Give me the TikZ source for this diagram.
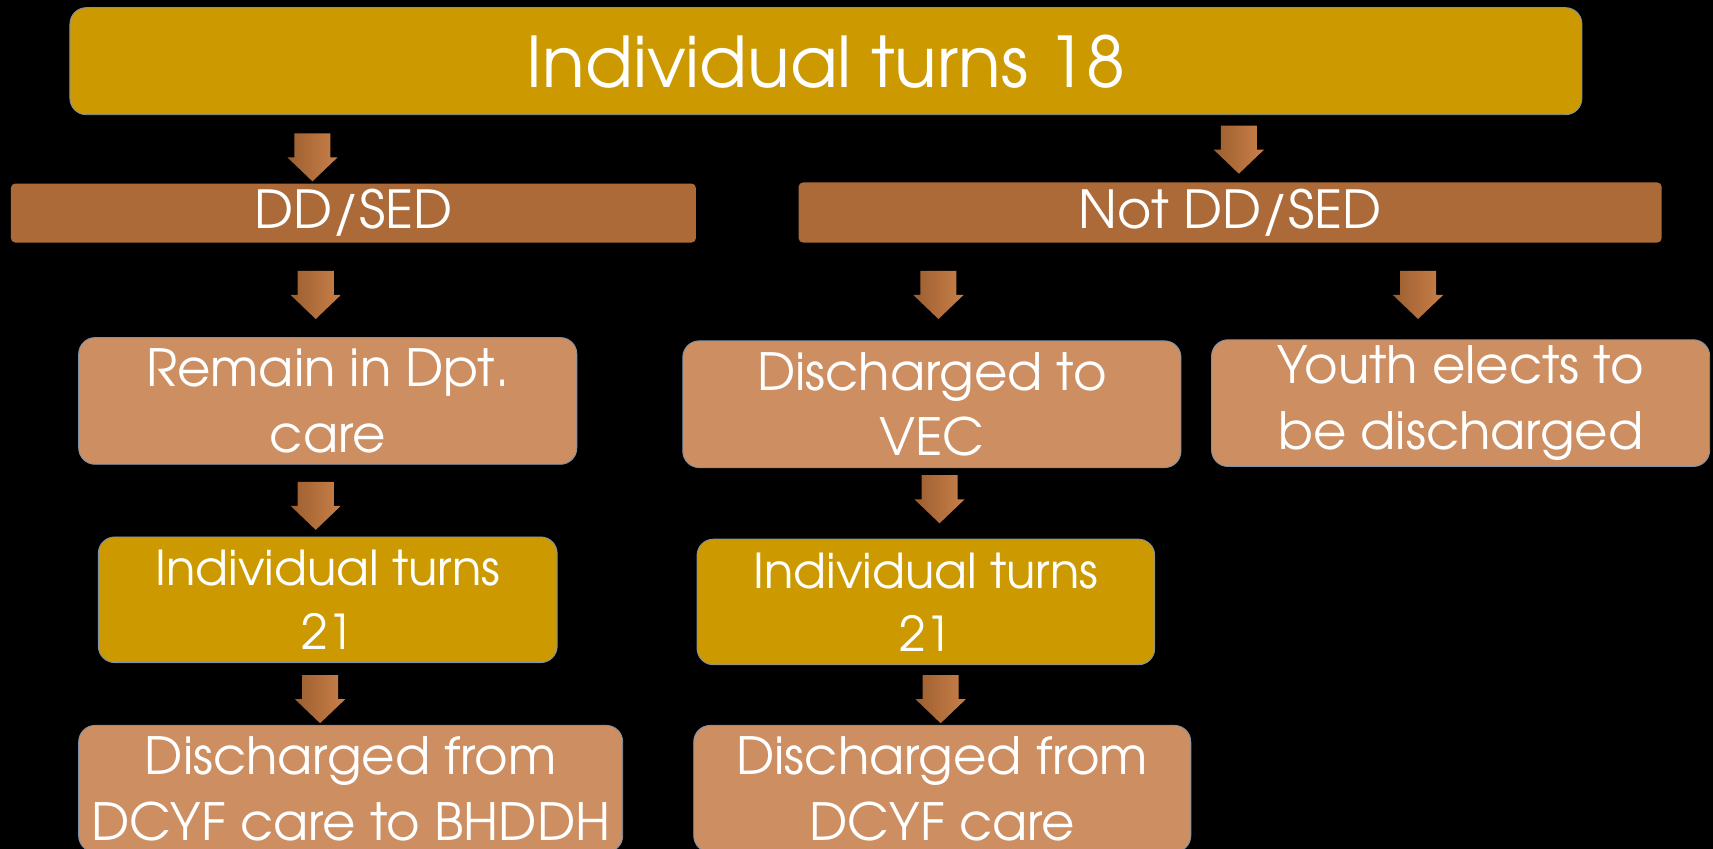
\documentclass[tikz,border=0pt]{standalone}
\usepackage{fontspec}
\setmainfont{TeX Gyre Adventor}
\definecolor{goldfill}{HTML}{CC9900}
\definecolor{barfill}{HTML}{AB6A38}
\definecolor{lightfill}{HTML}{CD8E62}
\definecolor{edgeblue}{HTML}{7F93A8}
\definecolor{arrL}{HTML}{9C5E2F}
\definecolor{arrR}{HTML}{C98049}
\tikzset{
  goldbox/.style={fill=goldfill, draw=edgeblue, line width=0.8pt, rounded corners=15pt, inner sep=0pt, text=white, align=center},
  lightbox/.style={fill=lightfill, draw=edgeblue, line width=0.8pt, rounded corners=15pt, inner sep=0pt, text=white, align=center, font=\fontsize{47}{60}\selectfont},
  barbox/.style={fill=barfill, rounded corners=4pt, inner sep=0pt, text=white, font=\fontsize{48}{50}\selectfont},
  blockarrow/.style={left color=arrL, right color=arrR}
}
\newcommand\downarr[1]{\shade[blockarrow, shift={(#1)}] (-16.5,0) -- (16.5,0) -- (16.5,22) -- (23,22) -- (0,44) -- (-23,22) -- (-16.5,22) -- cycle;}
\begin{document}
\begin{tikzpicture}[x=1pt,y=-1pt]
\fill[black] (0,0) rectangle (1568,777);
\useasboundingbox (0,0) rectangle (1568,777);
\begin{scope}
\clip (0,0) rectangle (1568,777);
\node[goldbox, minimum width=1384pt, minimum height=98pt, font=\fontsize{64}{70}\selectfont] (top) at (756,56) {Individual turns 18};
\node[barbox, minimum width=627pt, minimum height=54pt] (dd) at (323.5,195) {DD/SED};
\node[barbox, minimum width=790pt, minimum height=55pt] (ndd) at (1126,194.5) {Not DD/SED};
\node[lightbox, minimum width=456pt, minimum height=116pt] (remain) at (300,367) {Remain in Dpt.\\care};
\node[lightbox, minimum width=456pt, minimum height=116pt] (vec) at (853,370) {Discharged to\\VEC};
\node[lightbox, minimum width=456pt, minimum height=116pt] (youth) at (1337,369) {Youth elects to\\be discharged};
\node[goldbox, minimum width=420pt, minimum height=115pt, font=\fontsize{44}{58}\selectfont] (ltw) at (300,549) {Individual turns\\21};
\node[goldbox, minimum width=419pt, minimum height=115pt, font=\fontsize{44}{58}\selectfont] (rtw) at (847.5,551) {Individual turns\\21};
\node[lightbox, minimum width=498pt, minimum height=116pt] (bhddh) at (321,722) {Discharged from\\DCYF care to BHDDH};
\node[lightbox, minimum width=455pt, minimum height=116pt] (dcyf) at (862.5,722) {Discharged from\\DCYF care};
\end{scope}
\coordinate (a1) at (286,122);
\coordinate (a2) at (1134,115);
\coordinate (a3) at (289,248);
\coordinate (a4) at (859,248);
\coordinate (a5) at (1298,248);
\coordinate (a6) at (289,441);
\coordinate (a7) at (860,435);
\coordinate (a8) at (293,618);
\coordinate (a9) at (861,618);
\downarr{a1}\downarr{a2}\downarr{a3}\downarr{a4}\downarr{a5}\downarr{a6}\downarr{a7}\downarr{a8}\downarr{a9}
\end{tikzpicture}
\end{document}
